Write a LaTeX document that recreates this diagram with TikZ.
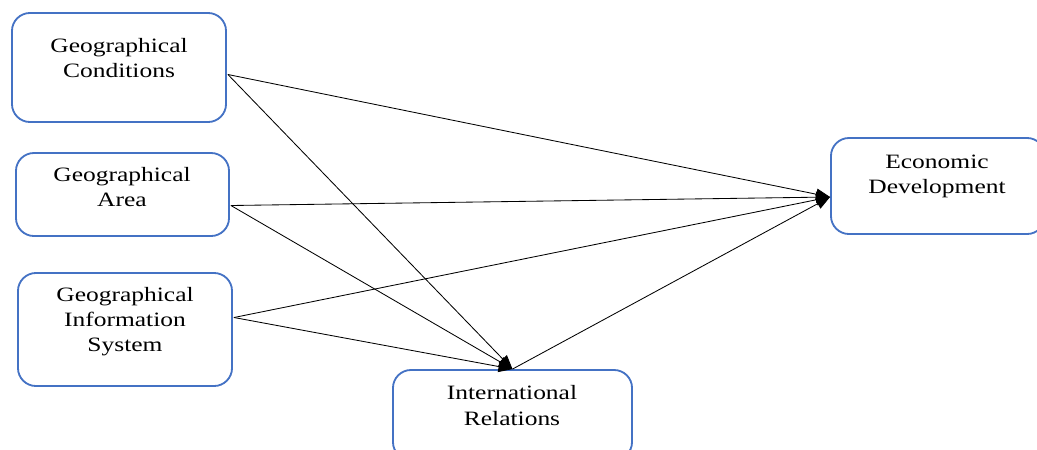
\documentclass[tikz,border=0pt]{standalone}
\usepackage{fontspec}
\setmainfont{Liberation Serif}[FakeStretch=1.25]
\usetikzlibrary{positioning,arrows.meta,calc}
\definecolor{boxblue}{RGB}{68,114,196}
\tikzset{box/.style={draw=boxblue,line width=1.3pt,rounded corners=0.45cm,inner sep=0pt}}
\tikzset{txt/.style={align=center,inner sep=0pt,font=\fontsize{14.5}{17.8}\selectfont}}
\tikzset{link/.style={-{Triangle[length=0.35cm,width=0.28cm]},line width=0.6pt}}

\begin{document}
\begin{tikzpicture}[x=0.025cm,y=-0.025cm]
      \clip (0,0) rectangle (1037,449);
      % boxes
      \node[box,minimum width=5.35cm,minimum height=2.725cm] (gc) at (119,67.5) {};
      \node[box,minimum width=5.325cm,minimum height=2.075cm] (ga) at (122.5,194.5) {};
      \node[box,minimum width=5.35cm,minimum height=2.825cm] (gis) at (125,329.5) {};
      \node[box,minimum width=5.975cm,minimum height=2.25cm] (ir) at (512.5,415) {};
      \node[box,minimum width=5.35cm,minimum height=2.4cm] (ed) at (938,186) {};
      % texts
      \node[txt] (gc-t) at (119,58) {Geographical\\Conditions};
      \node[txt] (ga-t) at (122,187) {Geographical\\Area};
      \node[txt] (gis-t) at (125,322) {Geographical\\Information\\System};
      \node[txt] (ir-t) at (512,405.5) {International\\Relations};
      \node[txt] (ed-t) at (937,176.5) {Economic\\Development};
      % ends
      \coordinate (gc-out) at ($(gc.east)+(1,7)$);
      \coordinate (ga-out) at ($(ga.east)+(1,11)$);
      \coordinate (gis-out) at ($(gis.east)+(1,-12)$);
      \coordinate (ed-in) at ($(ed.west)+(0,11)$);
      \draw[link] (gc-out) -- (ed-in);
      \draw[link] (gc-out) -- (ir.north);
      \draw[link] (ga-out) -- (ed-in);
      \draw[link] (ga-out) -- (ir.north);
      \draw[link] (gis-out) -- (ed-in);
      \draw[link] (gis-out) -- (ir.north);
      \draw[link] (ir.north) -- (ed-in);
    \end{tikzpicture}
\end{document}
